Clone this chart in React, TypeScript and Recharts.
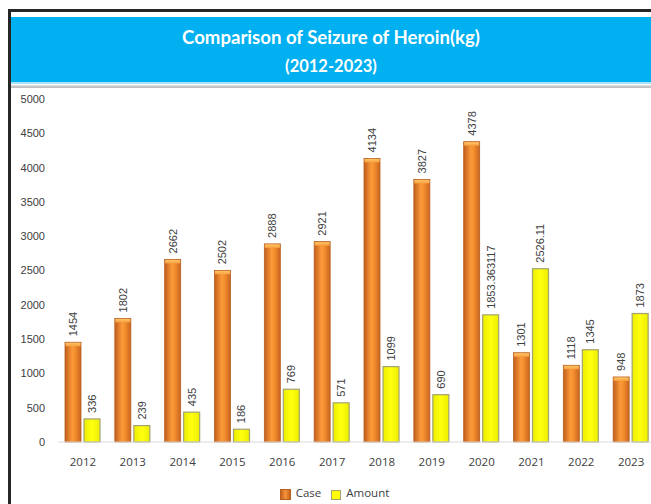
import React from "react";
import { BarChart, Bar, XAxis, YAxis, Legend, LabelList } from "recharts";

const years = ["2012", "2013", "2014", "2015", "2016", "2017", "2018", "2019", "2020", "2021", "2022", "2023"];
const caseValues = [1454, 1802, 2662, 2502, 2888, 2921, 4134, 3827, 4378, 1301, 1118, 948];
const amountValues = [336, 239, 435, 186, 769, 571, 1099, 690, 1853.363117, 2526.11, 1345, 1873];
const amountLabels = ["336", "239", "435", "186", "769", "571", "1099", "690", "1853.363117", "2526.11", "1345", "1873"];
const yTicks = [0, 500, 1000, 1500, 2000, 2500, 3000, 3500, 4000, 4500, 5000];

const data = years.map((y, i) => ({
  year: y,
  case: caseValues[i],
  amount: amountValues[i],
  amountLabel: amountLabels[i],
}));

const FONT = "'Liberation Sans', Arial, sans-serif";

const CaseBar = (props: any) => {
  const { x, y, width, height } = props;
  if (!height || height <= 0) return null;
  return (
    <g>
      <rect x={x} y={y} width={width} height={height} fill="url(#caseGrad)" stroke="#B5601F" strokeWidth={0.8} />
      <rect x={x + 0.5} y={y + 0.5} width={width - 1} height={Math.min(3.5, height)} fill="url(#capGrad)" />
    </g>
  );
};

const AmountBar = (props: any) => {
  const { x, y, width, height } = props;
  if (!height || height <= 0) return null;
  return (
    <g>
      <rect x={x} y={y} width={width} height={height} fill="url(#amtGrad)" stroke="#A3A372" strokeWidth={1.2} />
    </g>
  );
};

const VLabel = (props: any) => {
  const { x, y, width, value } = props;
  const cx = x + width / 2;
  const cy = y - 6;
  return (
    <text
      x={cx}
      y={cy}
      transform={`rotate(-90 ${cx} ${cy})`}
      textAnchor="start"
      dominantBaseline="central"
      fontSize={11}
      fill="#404040"
      fontFamily={FONT}
    >
      {value}
    </text>
  );
};

const LegendContent = () => (
  <div style={{ display: "flex", justifyContent: "center", alignItems: "center", height: 20, fontFamily: "'Open Sans', sans-serif", fontSize: 11.5, color: "#404040" }}>
    <div style={{ display: "flex", alignItems: "center", marginRight: 10 }}>
      <span style={{ display: "inline-block", width: 9, height: 9, marginRight: 5, marginTop: 5, background: "linear-gradient(to right, #C9641E, #F4923A, #C9641E)", border: "1px solid #B5601F" }} />
      <span>Case</span>
    </div>
    <div style={{ display: "flex", alignItems: "center" }}>
      <span style={{ display: "inline-block", width: 8, height: 8, marginRight: 5, marginTop: 5, background: "#FFFF00", border: "1px solid #A3A372" }} />
      <span>Amount</span>
    </div>
  </div>
);

export default function App() {
  return (
    <div style={{ position: "relative", width: 643, height: 496, overflow: "hidden", background: "#fff", fontFamily: FONT }}>
      <style>{"body{overflow:hidden;margin:8px 0 0 8px;}"}</style>
      <div style={{ position: "absolute", left: 0, top: 1, width: 643, height: 3, background: "#262626" }} />
      <div style={{ position: "absolute", left: 0, top: 1, width: 3, height: 495, background: "#262626" }} />
      <div
        style={{
          position: "absolute",
          left: 3,
          top: 9,
          width: 640,
          height: 65,
          background: "#00B0F0",
          color: "#fff",
          fontFamily: "Lato, 'Open Sans', sans-serif",
          fontWeight: 700,
          textAlign: "center",
        }}
      >
        <div style={{ position: "absolute", left: 0, width: 640, top: 10, lineHeight: "20px", fontSize: 18.6 }}>Comparison of Seizure of Heroin(kg)</div>
        <div style={{ position: "absolute", left: 0, width: 640, top: 39, lineHeight: "20px", fontSize: 16.5 }}>(2012-2023)</div>
      </div>
      <div style={{ position: "absolute", left: 3, top: 74, width: 640, height: 2, background: "#A8E4FA" }} />
      <div style={{ position: "absolute", left: 3, top: 77, width: 640, height: 3, background: "linear-gradient(#E0E0E0, #B8B8B8)" }} />
      <div style={{ position: "absolute", left: 0, top: 0 }}>
        <BarChart
          width={648}
          height={496}
          data={data}
          margin={{ top: 91, right: 0, left: 0, bottom: 0 }}
          barSize={16}
          barGap={3}
        >
          <defs>
            <linearGradient id="caseGrad" x1="0" y1="0" x2="1" y2="0">
              <stop offset="0%" stopColor="#C25E1C" />
              <stop offset="45%" stopColor="#FA9A3A" />
              <stop offset="60%" stopColor="#F7922F" />
              <stop offset="100%" stopColor="#C96520" />
            </linearGradient>
            <linearGradient id="capGrad" x1="0" y1="0" x2="0" y2="1">
              <stop offset="0%" stopColor="#FFC466" />
              <stop offset="100%" stopColor="#F7A040" />
            </linearGradient>
            <linearGradient id="amtGrad" x1="0" y1="0" x2="1" y2="0">
              <stop offset="0%" stopColor="#EDED00" />
              <stop offset="50%" stopColor="#FFFF10" />
              <stop offset="100%" stopColor="#EDED00" />
            </linearGradient>
          </defs>
          <XAxis
            dataKey="year"
            height={42}
            axisLine={{ stroke: "#D9D9D9", strokeWidth: 1 }}
            tickLine={false}
            tickSize={0}
            tickMargin={16}
            tick={{ fontSize: 11.5, fill: "#404040", fontFamily: "'Open Sans', sans-serif" }}
            interval={0}
          />
          <YAxis
            width={50}
            domain={[0, 5000]}
            ticks={yTicks}
            axisLine={false}
            tickLine={false}
            tickSize={0}
            tickMargin={13}
            tick={{ fontSize: 11, fill: "#404040", fontFamily: FONT }}
            interval={0}
          />
          <Legend
            verticalAlign="bottom"
            content={<LegendContent />}
            wrapperStyle={{ top: 474, left: 5, width: 643, height: 20 }}
          />
          <Bar dataKey="case" name="Case" shape={<CaseBar />} isAnimationActive={false}>
            <LabelList dataKey="case" content={<VLabel />} />
          </Bar>
          <Bar dataKey="amount" name="Amount" shape={<AmountBar />} isAnimationActive={false}>
            <LabelList dataKey="amountLabel" content={<VLabel />} />
          </Bar>
        </BarChart>
      </div>
    </div>
  );
}
